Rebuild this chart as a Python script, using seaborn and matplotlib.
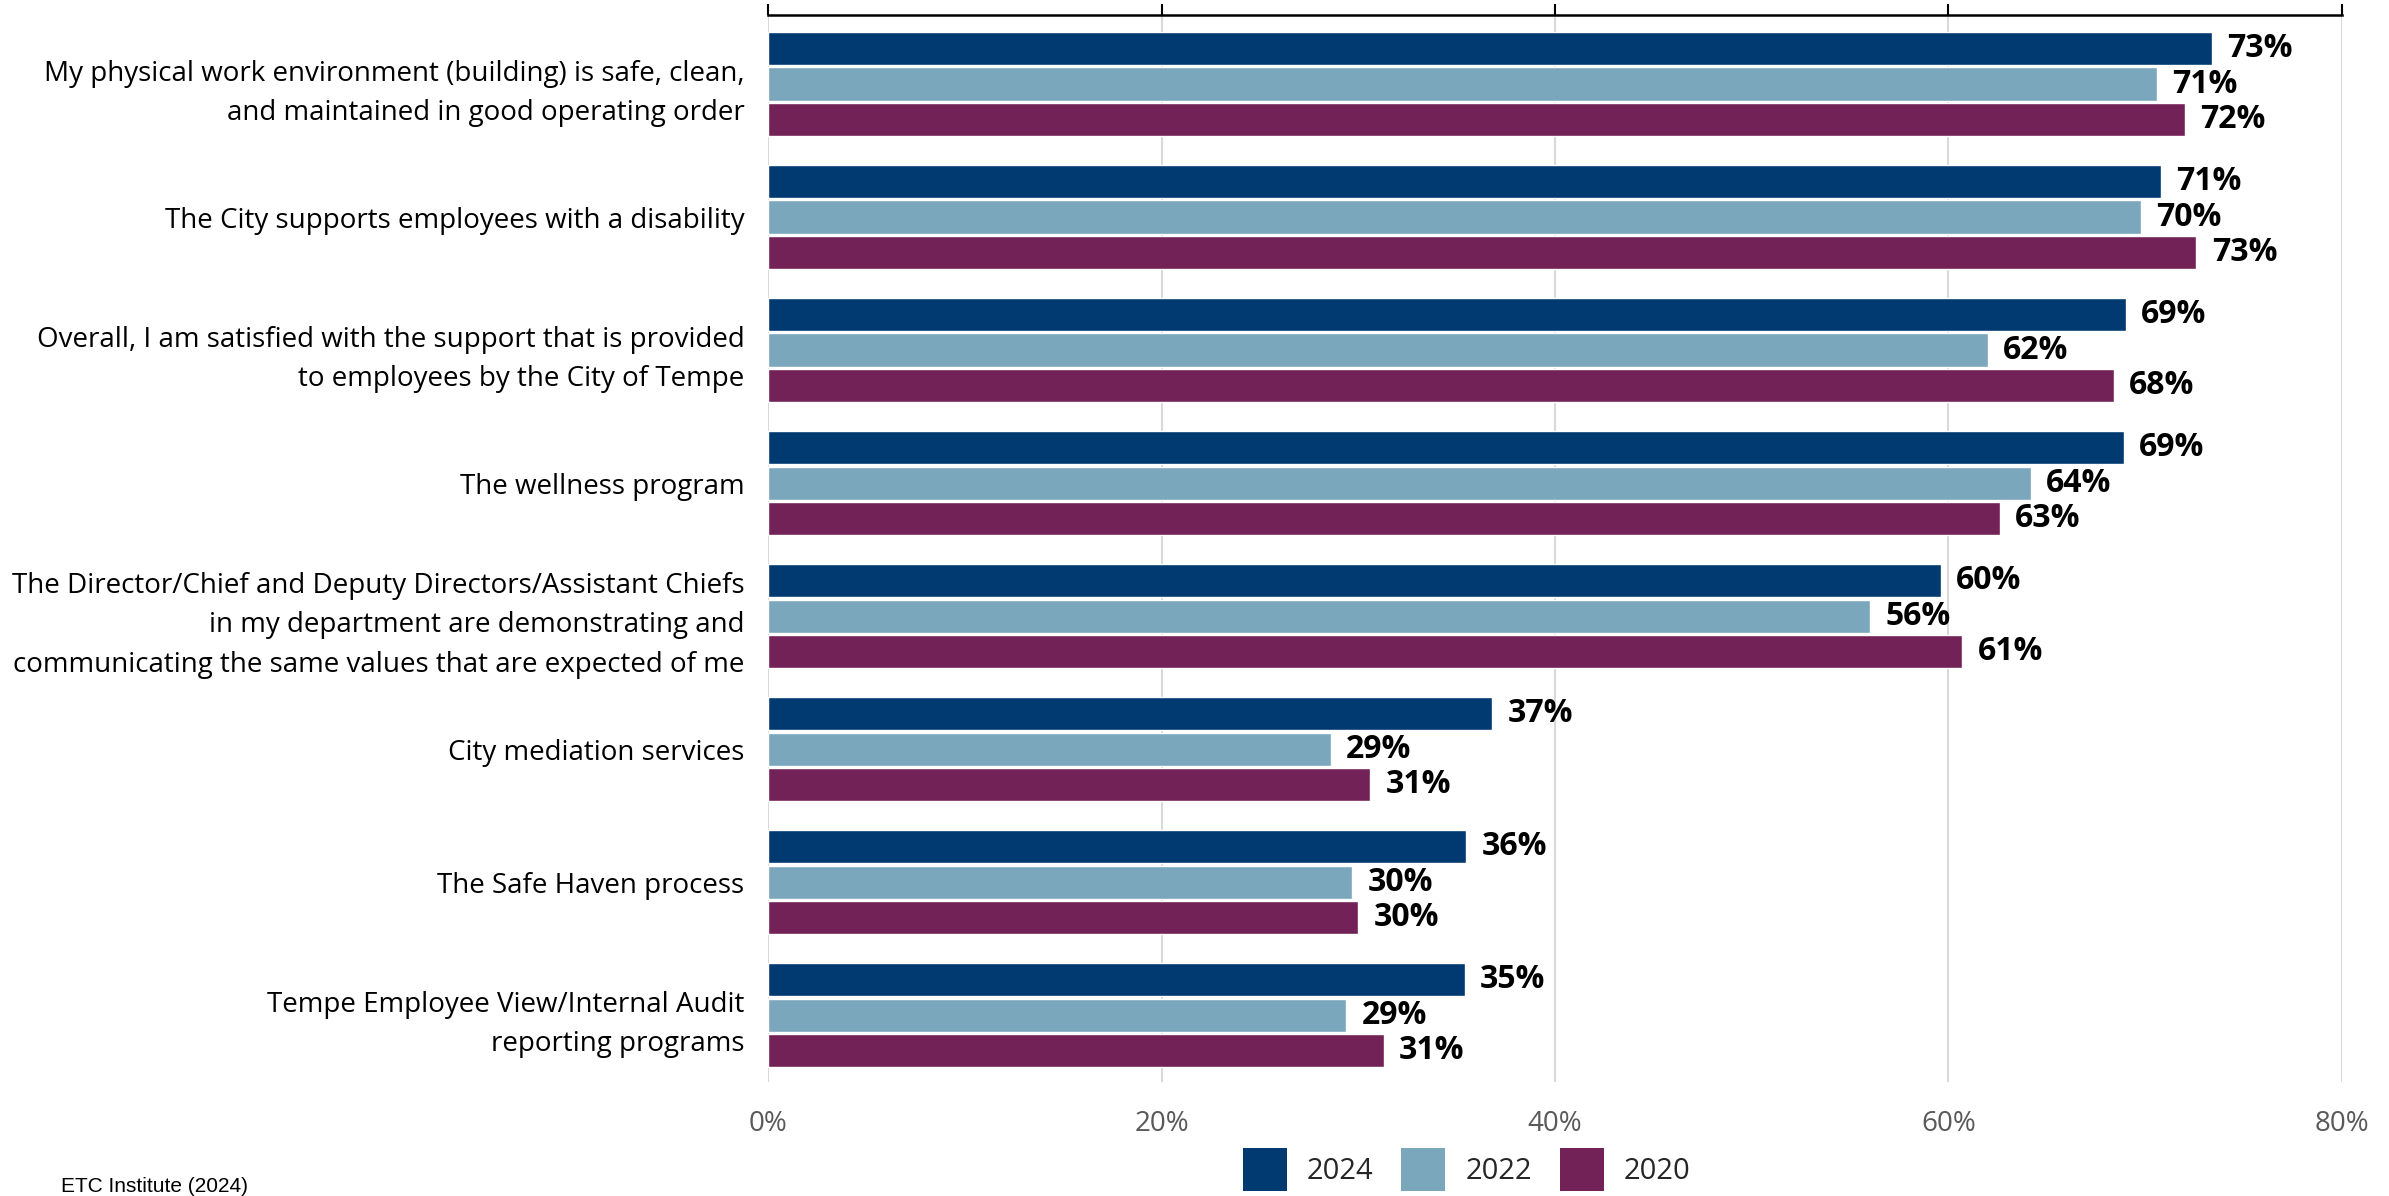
import matplotlib
matplotlib.use("Agg")
import matplotlib.pyplot as plt
import seaborn as sns
import pandas as pd
from matplotlib.patches import Patch

categories = [
    "My physical work environment (building) is safe, clean,\nand maintained in good operating order",
    "The City supports employees with a disability",
    "Overall, I am satisfied with the support that is provided\nto employees by the City of Tempe",
    "The wellness program",
    "The Director/Chief and Deputy Directors/Assistant Chiefs\nin my department are demonstrating and\ncommunicating the same values that are expected of me",
    "City mediation services",
    "The Safe Haven process",
    "Tempe Employee View/Internal Audit\nreporting programs",
]
years = ["2024", "2022", "2020"]
values_2024 = [73.4, 70.8, 69.0, 68.9, 59.6, 36.8, 35.5, 35.4]
values_2022 = [70.6, 69.8, 62.0, 64.2, 56.0, 28.6, 29.7, 29.4]
values_2020 = [72.0, 72.6, 68.4, 62.6, 60.7, 30.6, 30.0, 31.3]
colors = ["#003A70", "#7BA7BC", "#722257"]
xticks = [0, 20, 40, 60, 80]
source_text = "ETC Institute (2024)"

rows = []
for yr, vals in zip(years, [values_2024, values_2022, values_2020]):
    for c, v in zip(categories, vals):
        rows.append({"category": c, "year": yr, "value": v})
df = pd.DataFrame(rows)

sns.set_theme(style="white")
plt.rcParams["font.family"] = ["Open Sans", "DejaVu Sans"]

fig = plt.figure(figsize=(23.89, 11.96), dpi=100)
ax = fig.add_axes([0.3215, 0.0955, 0.9803 - 0.3215, 0.9875 - 0.0955])

sns.barplot(data=df, y="category", x="value", hue="year", hue_order=years,
            order=categories, palette=colors, saturation=1, orient="h", width=0.8,
            gap=0.06, edgecolor="white", linewidth=1.0, ax=ax, legend=False, zorder=3)

for cont in ax.containers:
    vals = [b.get_width() for b in cont]
    ax.bar_label(cont, labels=[f"{round(v)}%" for v in vals], padding=11,
                 fontsize=23, fontweight="bold", color="black")

ax.set_xlim(0, 80)
ax.set_ylim(len(categories) - 0.5, -0.52)
ax.set_xticks(xticks)
ax.set_xticklabels([f"{t}%" for t in xticks])
ax.xaxis.grid(True, color="#D9D9D9", linewidth=1.5, zorder=0)
ax.set_axisbelow(True)
ax.set_xlabel("")
ax.set_ylabel("")

for s in ["left", "right", "bottom"]:
    ax.spines[s].set_visible(False)
ax.spines["top"].set_visible(True)
ax.spines["top"].set_color("black")
ax.spines["top"].set_linewidth(1.8)

ax.tick_params(axis="x", which="both", top=True, bottom=False, labeltop=False,
               labelbottom=True, direction="out", length=8, width=1.5,
               color="black", labelsize=20, labelcolor="#595959", pad=12)
ax.tick_params(axis="y", left=False, labelsize=20, pad=11, labelcolor="black")
for lab in ax.get_yticklabels():
    lab.set_horizontalalignment("right")
    lab.set_linespacing(1.55)

handles = [Patch(facecolor=c, edgecolor="none", label=y) for c, y in zip(colors, years)]
fig.legend(handles=handles, loc="center", bbox_to_anchor=(0.614, 0.022), ncol=3,
           frameon=False, fontsize=21, handlelength=1.5, handleheight=1.9,
           handletextpad=0.7, columnspacing=0.95)

fig.text(0.0255, 0.008, source_text, fontsize=15, family=["Liberation Sans", "DejaVu Sans"],
         color="black", ha="left", va="center")

fig.savefig("out.png", dpi=100)
